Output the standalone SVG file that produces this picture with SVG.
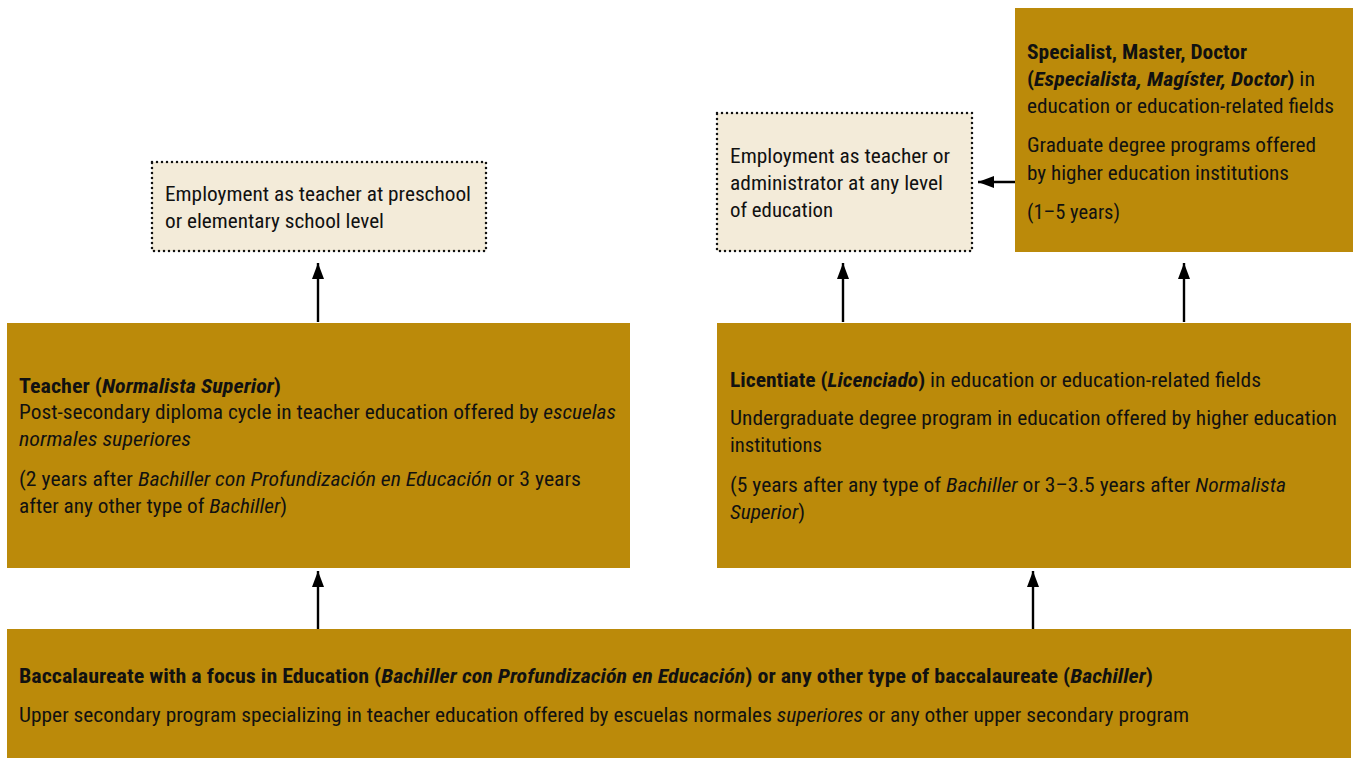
<svg xmlns="http://www.w3.org/2000/svg" width="1359" height="758" viewBox="0 0 1359 758">
<style>
.gold{fill:#BB8A0A}
.emp{fill:#F3EBD9;stroke:#111;stroke-width:2.5;stroke-dasharray:0 5;stroke-linecap:round}
text{font-family:"Liberation Sans Narrow","Roboto Condensed","Liberation Sans",Arial,sans-serif;font-size:20.5px;fill:#111}
.b{font-weight:bold}
.i{font-style:italic}
.conn{stroke:#000;stroke-width:2.4;fill:none;marker-end:url(#ah)}
</style>
<defs>
<marker id="ah" markerUnits="userSpaceOnUse" viewBox="0 0 16 14" refX="16" refY="7" markerWidth="16" markerHeight="14" orient="auto">
<path d="M0,1 L16,7 L0,13 Z" fill="#000"/>
</marker>
</defs>
<rect width="1359" height="758" fill="#fff"/>

<g id="connectors">
<line class="conn" x1="318" y1="322" x2="318" y2="263"/>
<line class="conn" x1="843" y1="322" x2="843" y2="263"/>
<line class="conn" x1="1184" y1="322" x2="1184" y2="263"/>
<line class="conn" x1="318" y1="629" x2="318" y2="571"/>
<line class="conn" x1="1033" y1="629" x2="1033" y2="571"/>
<line class="conn" x1="1015" y1="182" x2="978" y2="182"/>
</g>

<g id="employment-preschool">
<rect class="emp" x="152" y="162" width="334" height="89"/>
<text x="165" y="201" textLength="306" lengthAdjust="spacingAndGlyphs">Employment as teacher at preschool</text>
<text x="165" y="228" textLength="219" lengthAdjust="spacingAndGlyphs">or elementary school level</text>
</g>

<g id="employment-any">
<rect class="emp" x="717" y="113" width="255" height="138"/>
<text x="730" y="163" textLength="220" lengthAdjust="spacingAndGlyphs">Employment as teacher or</text>
<text x="730" y="190" textLength="213" lengthAdjust="spacingAndGlyphs">administrator at any level</text>
<text x="730" y="217" textLength="103" lengthAdjust="spacingAndGlyphs">of education</text>
</g>

<g id="graduate">
<rect class="gold" x="1015" y="8" width="338" height="244"/>
<text x="1027" y="59" class="b" textLength="220" lengthAdjust="spacingAndGlyphs">Specialist, Master, Doctor</text>
<text x="1027" y="86" textLength="288" lengthAdjust="spacingAndGlyphs"><tspan class="b">(</tspan><tspan class="b i">Especialista, Magíster, Doctor</tspan><tspan class="b">)</tspan> in</text>
<text x="1027" y="113" textLength="307" lengthAdjust="spacingAndGlyphs">education or education-related fields</text>
<text x="1027" y="152" textLength="289" lengthAdjust="spacingAndGlyphs">Graduate degree programs offered</text>
<text x="1027" y="180" textLength="262" lengthAdjust="spacingAndGlyphs">by higher education institutions</text>
<text x="1027" y="219" textLength="93" lengthAdjust="spacingAndGlyphs">(1–5 years)</text>
</g>

<g id="teacher">
<rect class="gold" x="7" y="323" width="623" height="245"/>
<text x="19" y="393" textLength="262" lengthAdjust="spacingAndGlyphs"><tspan class="b">Teacher (</tspan><tspan class="b i">Normalista Superior</tspan><tspan class="b">)</tspan></text>
<text x="19" y="419" textLength="597" lengthAdjust="spacingAndGlyphs">Post-secondary diploma cycle in teacher education offered by <tspan class="i">escuelas</tspan></text>
<text x="19" y="446" class="i" textLength="172" lengthAdjust="spacingAndGlyphs">normales superiores</text>
<text x="19" y="486" textLength="562" lengthAdjust="spacingAndGlyphs">(2 years after <tspan class="i">Bachiller con Profundización en Educación</tspan> or 3 years</text>
<text x="19" y="513" textLength="268" lengthAdjust="spacingAndGlyphs">after any other type of <tspan class="i">Bachiller</tspan>)</text>
</g>

<g id="licentiate">
<rect class="gold" x="717" y="323" width="634" height="245"/>
<text x="730" y="387" textLength="531" lengthAdjust="spacingAndGlyphs"><tspan class="b">Licentiate (</tspan><tspan class="b i">Licenciado</tspan><tspan class="b">)</tspan> in education or education-related fields</text>
<text x="730" y="425" textLength="607" lengthAdjust="spacingAndGlyphs">Undergraduate degree program in education offered by higher education</text>
<text x="730" y="452" textLength="92" lengthAdjust="spacingAndGlyphs">institutions</text>
<text x="730" y="492" textLength="556" lengthAdjust="spacingAndGlyphs">(5 years after any type of <tspan class="i">Bachiller</tspan> or 3–3.5 years after <tspan class="i">Normalista</tspan></text>
<text x="730" y="519" textLength="75" lengthAdjust="spacingAndGlyphs"><tspan class="i">Superior</tspan>)</text>
</g>

<g id="baccalaureate">
<rect class="gold" x="7" y="629" width="1344" height="129"/>
<text x="19" y="683" textLength="1134" lengthAdjust="spacingAndGlyphs"><tspan class="b">Baccalaureate with a focus in Education (</tspan><tspan class="b i">Bachiller con Profundización en Educación</tspan><tspan class="b">) or any other type of baccalaureate (</tspan><tspan class="b i">Bachiller</tspan><tspan class="b">)</tspan></text>
<text x="19" y="722" textLength="1170" lengthAdjust="spacingAndGlyphs">Upper secondary program specializing in teacher education offered by escuelas normales <tspan class="i">superiores</tspan> or any other upper secondary program</text>
</g>
</svg>
